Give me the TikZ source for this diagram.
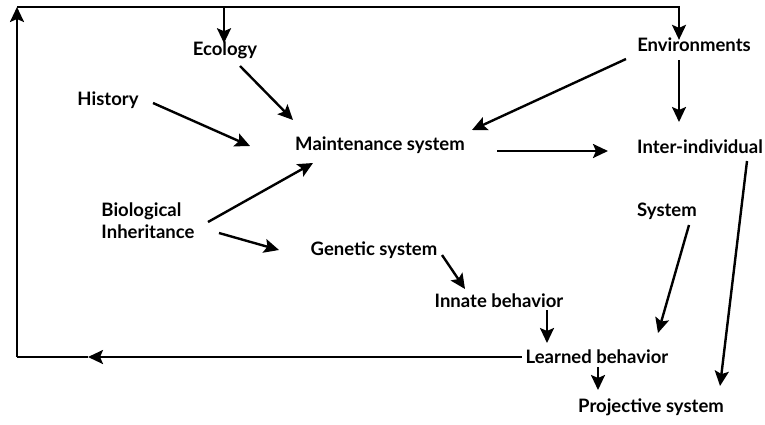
\documentclass[tikz,border=0pt]{standalone}
\usepackage{fontspec}
\setmainfont{Lato}
\usetikzlibrary{arrows.meta}

\begin{document}
\begin{tikzpicture}[x=1pt,y=-1pt,font=\bfseries\fontsize{18.5}{22}\selectfont,
  lbl/.style={inner sep=1pt},
  link/.style={line width=2.4pt,-{Stealth[length=15pt,width=14pt,inset=3pt]}},
  loop/.style={line width=2.4pt}]
\useasboundingbox (0,0) rectangle (765,424);
% labels
\node[lbl] (eco) at (225,50) {Ecology}; \node[lbl] (env) at (694,45) {Environments};
\node[lbl] (hist) at (108,100) {History}; \node[lbl] (main) at (380,145) {Maintenance system};
\node[lbl] (inter) at (700,147) {Inter-individual}; \node[lbl] (sys) at (667,211) {System};
\node[lbl,align=left] (bio) at (148,221) {Biological\\Inheritance};
\node[lbl] (gen) at (374,250) {Genetic system}; \node[lbl] (innate) at (499,301) {Innate behavior};
\node[lbl] (learn) at (597,357) {Learned behavior}; \node[lbl] (proj) at (651,407) {Projective system};
% feedback loop
\coordinate (bl) at (17,357); \coordinate (tl) at (17,7); \coordinate (tr) at (679,7);
\coordinate (te) at (224,7); \coordinate (ba) at (88,357);
\draw[link] ([xshift=-3pt]learn.west) -- (ba); \draw[loop] (ba) -- (bl);
\draw[link] (bl) -- (tl); \draw[link] (tl) -- (tr) -- ([yshift=-3pt]env.north -| tr);
\draw[link] (te) -- ([yshift=-3pt]eco.north -| te);
% arrows
\draw[link] ([shift={(15,16)}]eco.center) -- ([shift={(-87,-25)}]main.center);
\draw[link] ([shift={(45,3)}]hist.center) -- ([shift={(-130,1)}]main.center);
\draw[link] ([shift={(60,1)}]bio.center) -- ([shift={(-67,18)}]main.center);
\draw[link] ([shift={(71,12)}]bio.center) -- ([shift={(-95,0)}]gen.center);
\draw[link] ([shift={(-68,14)}]env.center) -- ([shift={(92,-15)}]main.center);
\draw[link] ([shift={(-15,15)}]env.center) -- ([shift={(-21,-25)}]inter.center);
\draw[link] ([shift={(117,6)}]main.center) -- ([shift={(-92,4)}]inter.center);
\draw[link] ([shift={(68,5)}]gen.center) -- ([shift={(-34,-12)}]innate.center);
\draw[link] ([shift={(48,9)}]innate.center) -- ([shift={(-50,-14)}]learn.center);
\draw[link] ([shift={(22,14)}]sys.center) -- ([shift={(61,-24)}]learn.center);
\draw[link] ([shift={(47,14)}]inter.center) -- ([shift={(69,-21)}]proj.center);
\draw[link] ([shift={(1,10)}]learn.center) -- ([shift={(-53,-17)}]proj.center);
\end{tikzpicture}
\end{document}
